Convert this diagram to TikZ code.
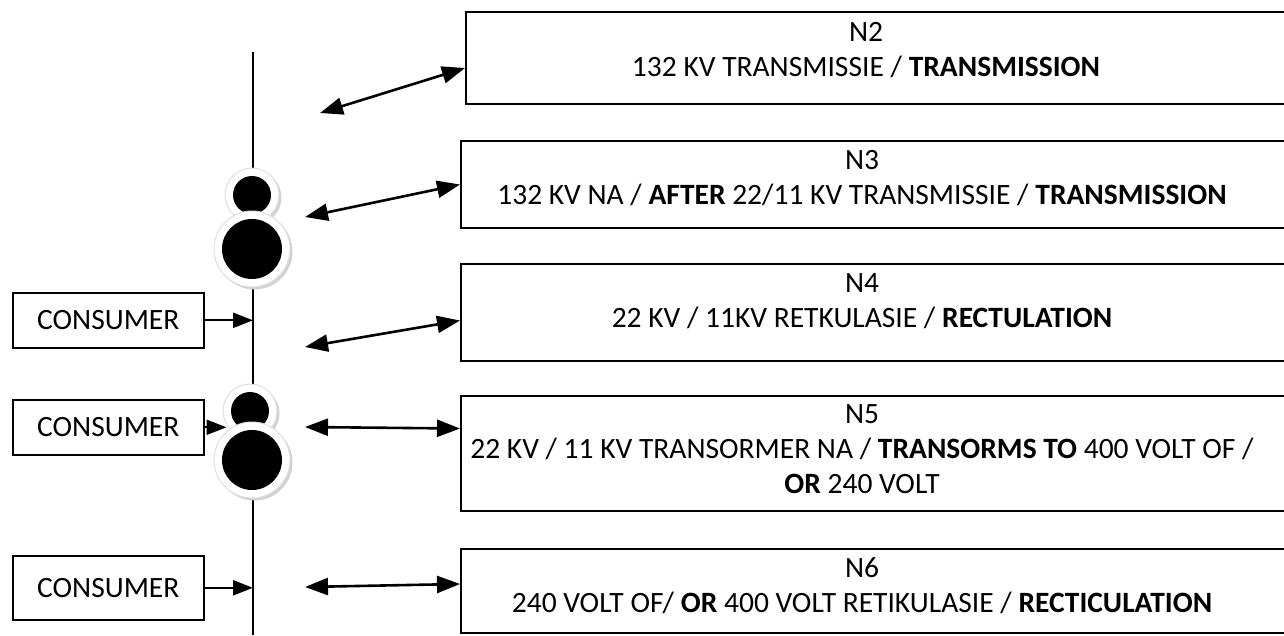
\documentclass[tikz,border=0pt]{standalone}
\usepackage{fontspec}
\setmainfont{Carlito}
\usetikzlibrary{arrows.meta,positioning}

\begin{document}
\begin{tikzpicture}[x=1pt,y=-1pt,
    nbox/.style={draw,line width=2pt,minimum width=860pt,anchor=north west,inner sep=0pt},
    ntext/.style={align=center,anchor=north,font=\fontsize{29.5}{35}\selectfont},
    cbox/.style={draw,line width=1.6pt,minimum width=191pt,anchor=north west,inner sep=0pt,font=\fontsize{29.5}{35}\selectfont},
    dbl/.style={{Triangle[length=23pt,width=17pt]}-{Triangle[length=23pt,width=17pt]},line width=2.6pt},
    feed/.style={-{Triangle[length=20pt,width=15pt]},line width=2.2pt},
    ring/.style={circle,fill=white,draw=gray!25,line width=1pt,inner sep=0pt}]
        \useasboundingbox (0,0) rectangle (1284,635);
        \coordinate (bustop) at (253,52);
        \coordinate (busbot) at (253,635);
        \draw[line width=1.6pt] (bustop) -- (busbot);
        \foreach \n/\x/\y/\r in {t1s/252/195/19, t1b/252/249/30, t2s/250/411/19, t2b/252/460/30} {
            \fill[gray!35] (\x+2.5,\y+2.5) circle[radius=\r+8];
            \node[ring,minimum size=2*\r+16] (\n) at (\x,\y) {};
            \fill (\n) circle[radius=\r];
        }
        \node[cbox,minimum height=55pt] (c1) at (12,292) {CONSUMER};
        \node[cbox,minimum height=55pt] (c2) at (12,399) {CONSUMER};
        \node[cbox,minimum height=64pt] (c3) at (12,555) {CONSUMER};
        \draw[feed] (c1.east) -- (c1.east -| bustop);
        \draw[feed,shorten >=-4pt] (c2.east) -- (c2.east -| t2s.west);
        \draw[feed] (c3.east) -- (c3.east -| bustop);
        \node[nbox,minimum height=92pt] (n2) at (465,11) {};
        \node[nbox,minimum height=87pt] (n3) at (460,140) {};
        \node[nbox,minimum height=97pt] (n4) at (460,263) {};
        \node[nbox,minimum height=115pt] (n5) at (460,395) {};
        \node[nbox,minimum height=84pt] (n6) at (460,548) {};
        \node[ntext] (l2) at (866,19) {N2\\132 KV TRANSMISSIE / \textbf{TRANSMISSION}};
        \node[ntext] (l3) at (862,147) {N3\\132 KV NA / \textbf{AFTER} 22/11 KV TRANSMISSIE / \textbf{TRANSMISSION}};
        \node[ntext] (l4) at (862,270) {N4\\22 KV / 11KV RETKULASIE / \textbf{RECTULATION}};
        \node[ntext] (l5) at (862,401) {N5\\22 KV / 11 KV TRANSORMER NA / \textbf{TRANSORMS TO} 400 VOLT OF /\\\textbf{OR} 240 VOLT};
        \node[ntext] (l6) at (862,554) {N6\\240 VOLT OF/ \textbf{OR} 400 VOLT RETIKULASIE / \textbf{RECTICULATION}};
        \coordinate (p2) at (320,113);
        \coordinate (p3) at (305,217);
        \coordinate (p4) at (305,347);
        \coordinate (p5) at (305,427);
        \coordinate (p6) at (305,587);
        \draw[dbl] (p2) -- ([yshift=-10pt]n2.west);
        \draw[dbl] (p3) -- (n3.west);
        \draw[dbl] (p4) -- ([yshift=-8pt]n4.west);
        \draw[dbl] (p5) -- ([yshift=25pt]n5.west);
        \draw[dbl] (p6) -- ([yshift=7pt]n6.west);
\end{tikzpicture}
\end{document}
